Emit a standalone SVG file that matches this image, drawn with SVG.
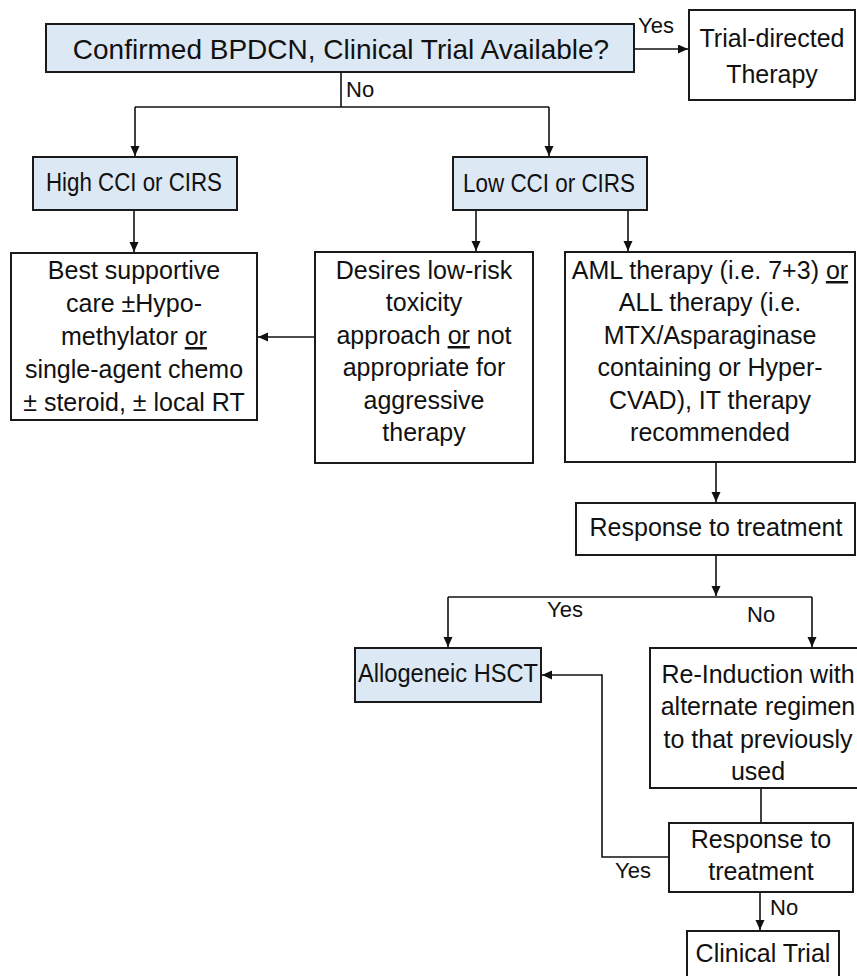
<svg xmlns="http://www.w3.org/2000/svg" width="857" height="976" viewBox="0 0 857 976">
<style>
.box{fill:#ffffff;stroke:#1a1a1a;stroke-width:2}
.blue{fill:#dce8f4;stroke:#1a1a1a;stroke-width:2}
.t{font-family:"Liberation Sans",Arial,sans-serif;font-size:25px;fill:#111;text-anchor:middle}
.big{font-size:28px}
.lbl{font-family:"Liberation Sans",Arial,sans-serif;font-size:22px;fill:#111}
.c{fill:none;stroke:#111;stroke-width:1.6}
.u{text-decoration:underline}
</style>
<defs>
<marker id="ah" markerUnits="userSpaceOnUse" markerWidth="11" markerHeight="10" refX="10" refY="4.5" orient="auto">
<path d="M0,0 L10,4.5 L0,9 z" fill="#111"/>
</marker>
</defs>
<rect width="857" height="976" fill="#ffffff"/>

<g id="connectors">
<path class="c" d="M634,49 H688" marker-end="url(#ah)"/>
<path class="c" d="M341,72 V107"/>
<path class="c" d="M135,107 H549"/>
<path class="c" d="M135,107 V156" marker-end="url(#ah)"/>
<path class="c" d="M549,107 V156" marker-end="url(#ah)"/>
<path class="c" d="M134,210 V252" marker-end="url(#ah)"/>
<path class="c" d="M476,210 V251" marker-end="url(#ah)"/>
<path class="c" d="M628,210 V251" marker-end="url(#ah)"/>
<path class="c" d="M315,337 H258" marker-end="url(#ah)"/>
<path class="c" d="M716,462 V502" marker-end="url(#ah)"/>
<path class="c" d="M716,555 V596" marker-end="url(#ah)"/>
<path class="c" d="M448,597 H812"/>
<path class="c" d="M448,597 V647" marker-end="url(#ah)"/>
<path class="c" d="M812,597 V647" marker-end="url(#ah)"/>
<path class="c" d="M761,788 V823"/>
<path class="c" d="M669,857 H602 V675 H542" marker-end="url(#ah)"/>
<path class="c" d="M760,892 V930" marker-end="url(#ah)"/>
<text class="lbl" x="638" y="33">Yes</text>
<text class="lbl" x="346" y="97">No</text>
<text class="lbl" x="547" y="617">Yes</text>
<text class="lbl" x="747" y="622">No</text>
<text class="lbl" x="615" y="878">Yes</text>
<text class="lbl" x="770" y="915">No</text>
</g>

<g id="start">
<rect class="blue" x="46" y="24" width="588" height="48"/>
<text class="t big" x="341" y="59">Confirmed BPDCN, Clinical Trial Available?</text>
</g>

<g id="trial-directed">
<rect class="box" x="689" y="10" width="166" height="90"/>
<text class="t" x="772" y="47">Trial-directed</text>
<text class="t" x="772" y="83">Therapy</text>
</g>

<g id="high-cci">
<rect class="blue" x="33" y="157" width="204" height="53"/>
<text class="t" x="134" y="191" textLength="176" lengthAdjust="spacingAndGlyphs">High CCI or CIRS</text>
</g>

<g id="low-cci">
<rect class="blue" x="453" y="157" width="194" height="53"/>
<text class="t" x="549" y="192" textLength="172" lengthAdjust="spacingAndGlyphs">Low CCI or CIRS</text>
</g>

<g id="best-supportive">
<rect class="box" x="11" y="253" width="246" height="167"/>
<text class="t" x="134" y="279">Best supportive</text>
<text class="t" x="134" y="312">care ±Hypo-</text>
<text class="t" x="134" y="345">methylator <tspan class="u">or</tspan></text>
<text class="t" x="134" y="378">single-agent chemo</text>
<text class="t" x="134" y="411">± steroid, ± local RT</text>
</g>

<g id="low-risk">
<rect class="box" x="315" y="252" width="218" height="211"/>
<text class="t" x="424" y="279">Desires low-risk</text>
<text class="t" x="424" y="311">toxicity</text>
<text class="t" x="424" y="344">approach <tspan class="u">or</tspan> not</text>
<text class="t" x="424" y="376">appropriate for</text>
<text class="t" x="424" y="409">aggressive</text>
<text class="t" x="424" y="441">therapy</text>
</g>

<g id="aml-all">
<rect class="box" x="565" y="252" width="290" height="210"/>
<text class="t" x="710" y="279">AML therapy (i.e. 7+3) <tspan class="u">or</tspan></text>
<text class="t" x="710" y="311">ALL therapy (i.e.</text>
<text class="t" x="710" y="344">MTX/Asparaginase</text>
<text class="t" x="710" y="376">containing or Hyper-</text>
<text class="t" x="710" y="409">CVAD), IT therapy</text>
<text class="t" x="710" y="441">recommended</text>
</g>

<g id="response-1">
<rect class="box" x="576" y="503" width="279" height="52"/>
<text class="t" x="716" y="536">Response to treatment</text>
</g>

<g id="allo-hsct">
<rect class="blue" x="355" y="648" width="186" height="54"/>
<text class="t" x="448" y="682" textLength="180" lengthAdjust="spacingAndGlyphs">Allogeneic HSCT</text>
</g>

<g id="re-induction">
<rect class="box" x="650" y="648" width="215" height="140"/>
<text class="t" x="758" y="683">Re-Induction with</text>
<text class="t" x="758" y="715">alternate regimen</text>
<text class="t" x="758" y="748">to that previously</text>
<text class="t" x="758" y="780">used</text>
</g>

<g id="response-2">
<rect class="box" x="669" y="823" width="184" height="69"/>
<text class="t" x="761" y="848">Response to</text>
<text class="t" x="761" y="880">treatment</text>
</g>

<g id="clinical-trial">
<rect class="box" x="687" y="931" width="152" height="60"/>
<text class="t" x="763" y="962">Clinical Trial</text>
</g>
</svg>
